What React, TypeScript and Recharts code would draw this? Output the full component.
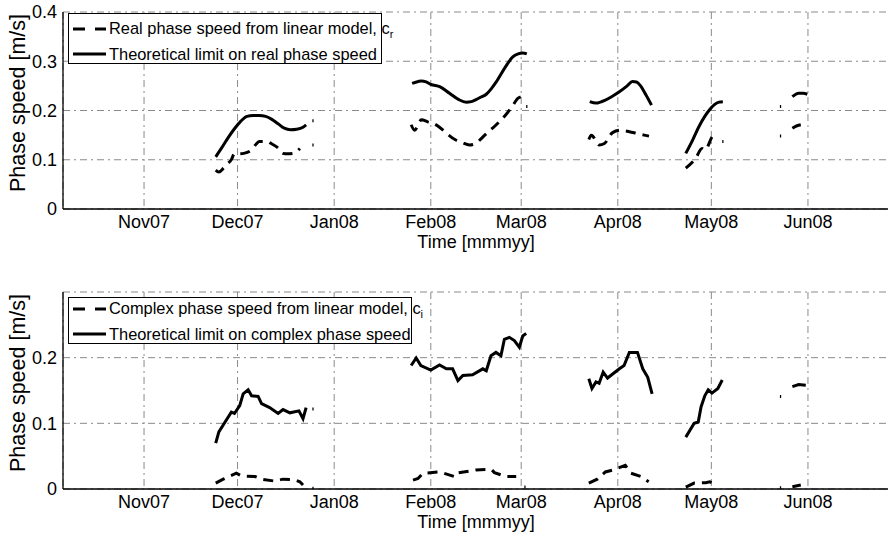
import { CartesianGrid, Label, Line, LineChart, XAxis, YAxis } from 'recharts';

// [day since 1 Nov 2007, speed in m/s]; a null value breaks the line
type Pt = [number, number | null];

const monthTicks = [0, 30, 61, 92, 121, 152, 182, 213];
const monthLabels = ['Nov07', 'Dec07', 'Jan08', 'Feb08', 'Mar08', 'Apr08', 'May08', 'Jun08'];

const realTicks = [0, 0.1, 0.2, 0.3, 0.4];
const complexTicks = [0, 0.1, 0.2];

const realModel: Pt[] = [
  [23, 0.079], [24, 0.075], [25.5, 0.083], [26.5, 0.09], [28, 0.1], [29, 0.112], [30.5, 0.112],
  [32, 0.113], [34.5, 0.12], [36, 0.132], [37, 0.137], [39.5, 0.137], [41, 0.132], [43, 0.124],
  [44.6, 0.113], [46, 0.112], [48, 0.113], [49, 0.117], [50, 0.123], [51, null],
  [54, 0.13], [54.4, 0.13], [70, null],
  [85.7, 0.171], [86.8, 0.16], [89, 0.181], [91, 0.177], [92.7, 0.174], [95, 0.165], [97, 0.154],
  [100, 0.14], [102, 0.135], [104.4, 0.13], [106.5, 0.133], [108, 0.142], [110, 0.154], [113, 0.171],
  [116, 0.191], [118, 0.207], [120, 0.225], [121, 0.228], [122, null], [122.6, 0.208], [123, 0.208], [130, null],
  [142.7, 0.141], [143.5, 0.15], [146, 0.13], [147.7, 0.133], [150.3, 0.155], [153, 0.16], [155.7, 0.157],
  [157.8, 0.154], [160.5, 0.15], [162, 0.148], [168, null],
  [173.8, 0.083], [177, 0.103], [179, 0.123], [180, 0.12], [182.3, 0.147], [183.4, 0.154], [184.5, null],
  [185.5, 0.137], [185.9, 0.137], [195, null],
  [204, 0.148], [204.4, 0.148], [206, null], [208, 0.164], [209.5, 0.169], [210.7, 0.171],
];

const realLimit: Pt[] = [
  [23, 0.106], [25, 0.125], [27, 0.145], [29, 0.163], [31, 0.178], [33, 0.188], [35, 0.19], [37, 0.19],
  [39, 0.188], [41, 0.182], [43, 0.173], [45, 0.164], [47, 0.161], [49, 0.162], [51, 0.166], [52, 0.171],
  [53, null], [54, 0.179], [54.4, 0.179], [70, null],
  [86, 0.255], [88, 0.259], [89, 0.26], [90.5, 0.258], [92, 0.253], [95, 0.248], [98, 0.235], [101, 0.222],
  [103.4, 0.217], [105, 0.218], [106.5, 0.222], [108, 0.227], [109.8, 0.233], [111.5, 0.245], [113, 0.258],
  [116, 0.289], [118.3, 0.309], [120, 0.315], [121.5, 0.317], [122.8, 0.315], [130, null],
  [143, 0.218], [145, 0.215], [148, 0.221], [150, 0.228], [152.5, 0.238], [155, 0.25], [156.7, 0.259],
  [158, 0.258], [159.3, 0.25], [161, 0.232], [162.8, 0.211], [168, null],
  [173.8, 0.113], [176, 0.14], [178, 0.167], [180, 0.189], [181.5, 0.202], [183, 0.212], [184.5, 0.217],
  [185.7, 0.218], [195, null],
  [204, 0.208], [204.4, 0.208], [206, null], [208, 0.228], [210, 0.235], [211.5, 0.235], [212.8, 0.233],
];

const complexModel: Pt[] = [
  [23, 0.009], [25.4, 0.015], [29.6, 0.024], [31.2, 0.02], [35.6, 0.019], [37.7, 0.015], [42, 0.012],
  [44.6, 0.015], [48.4, 0.014], [50, 0.011], [51, 0.006], [52, null], [54, 0.001], [54.4, 0.001], [70, null],
  [86.3, 0.0136], [87.9, 0.016], [89.5, 0.024], [94.8, 0.026], [99.6, 0.019], [100.1, 0.024], [106.5, 0.029],
  [111.4, 0.03], [112.4, 0.025], [116, 0.019], [119.4, 0.019], [120.5, null], [122, 0.003], [122.4, 0.003],
  [130, null],
  [142.7, 0.009], [145.4, 0.015], [148, 0.026], [150.5, 0.029], [154.4, 0.036], [156.2, 0.024],
  [159.4, 0.019], [161.9, 0.011], [168, null],
  [173.8, 0.003], [176.5, 0.009], [180.2, 0.0095], [181.5, 0.011], [182.5, 0.009], [195, null],
  [204, 0.002], [204.4, 0.002], [206, null], [208, 0.0035], [210.7, 0.006],
];

const complexLimit: Pt[] = [
  [23, 0.07], [24, 0.087], [26, 0.102], [28, 0.117], [29, 0.115], [30.7, 0.127], [31.8, 0.145],
  [33.4, 0.151], [34.5, 0.142], [36.6, 0.141], [37.7, 0.13], [40.3, 0.124], [43, 0.115], [44.6, 0.121],
  [46.8, 0.116], [49.7, 0.119], [51, 0.107], [52, 0.124], [53, null], [54, 0.122], [54.4, 0.122], [70, null],
  [85.7, 0.188], [87.3, 0.1995], [88.8, 0.188], [92, 0.181], [94.8, 0.189], [97, 0.183], [99, 0.183],
  [100.7, 0.165], [102.3, 0.173], [105.4, 0.174], [108.7, 0.183], [109.8, 0.18], [111.3, 0.203],
  [112.9, 0.208], [114.5, 0.203], [115.6, 0.228], [117.2, 0.231], [118.8, 0.226], [120.4, 0.216],
  [121.5, 0.233], [122.6, 0.237], [130, null],
  [142.7, 0.168], [143.7, 0.153], [145, 0.163], [146, 0.161], [147.3, 0.178], [148.7, 0.169],
  [152.5, 0.183], [154, 0.188], [155.7, 0.208], [158.3, 0.208], [160, 0.183], [161.6, 0.17], [163, 0.145],
  [168, null],
  [173.8, 0.079], [176.5, 0.1], [177.8, 0.102], [178.7, 0.125], [179.9, 0.142], [181, 0.151],
  [182.2, 0.146], [184.1, 0.153], [185.5, 0.166], [195, null],
  [204, 0.141], [204.4, 0.141], [206, null], [208, 0.156], [210, 0.159], [212.3, 0.158],
];

const FONT = '"Liberation Sans", Arial, Helvetica, sans-serif';
const DASH = '10 7';
const GRID_DASH = '7 4 2 4';

const toRows = (pts: Pt[]) => pts.map(([d, v]) => ({ d, v }));
const monthLabel = (d: number) => monthLabels[monthTicks.indexOf(d)] ?? '';

interface LegendBoxProps {
  left: number;
  top: number;
  width: number;
  height: number;
  rows: number[];
  modelText: string;
  sub: string;
  limitText: string;
}

const LegendBox = ({ left, top, width, height, rows, modelText, sub, limitText }: LegendBoxProps) => {
  const entry = (y: number, dashed: boolean, content: React.ReactNode) => (
    <div
      style={{
        position: 'absolute',
        left: 4,
        top: y - 11,
        height: 22,
        display: 'flex',
        alignItems: 'center',
        whiteSpace: 'nowrap',
      }}
    >
      <svg width={33} height={6} style={{ marginRight: 3 }}>
        <line
          x1={0}
          y1={3}
          x2={33}
          y2={3}
          stroke="#000"
          strokeWidth={3}
          strokeDasharray={dashed ? '12 10' : undefined}
        />
      </svg>
      <span>{content}</span>
    </div>
  );
  return (
    <div
      style={{
        position: 'absolute',
        left,
        top,
        width,
        height,
        boxSizing: 'border-box',
        border: '1px solid #000',
        background: '#fff',
        fontFamily: FONT,
        fontSize: 16.4,
        color: '#000',
      }}
    >
      {entry(
        rows[0],
        true,
        <>
          {modelText}
          <sub style={{ fontSize: 11, verticalAlign: '-4px', color: '#000' }}>{sub}</sub>
        </>,
      )}
      {entry(rows[1], false, limitText)}
    </div>
  );
};

interface PanelProps {
  top: number;
  plotTop: number;
  bottomMargin: number;
  yMax: number;
  yTicks: number[];
  model: Pt[];
  limit: Pt[];
  curve: 'monotone' | 'linear';
}

const Panel = ({ top, plotTop, bottomMargin, yMax, yTicks, model, limit, curve }: PanelProps) => {
  const tickStyle = { fontFamily: FONT, fontSize: 18, fill: '#000' };
  return (
    <div style={{ position: 'absolute', left: 0, top }}>
      <LineChart
        width={900}
        height={268}
        margin={{ top: plotTop, right: 11, bottom: bottomMargin, left: 13 }}
      >
        <CartesianGrid stroke="#8a8a8a" strokeDasharray={GRID_DASH} />
        <XAxis
          dataKey="d"
          type="number"
          domain={[-26, 239]}
          ticks={monthTicks}
          tickFormatter={monthLabel}
          tick={tickStyle}
          tickLine={false}
          tickSize={0}
          tickMargin={6}
          height={30}
          axisLine={{ stroke: '#000', strokeWidth: 1.3 }}
          allowDataOverflow
        >
          <Label
            content={() => (
              <text
                x={476}
                y={plotTop + 197 + 33}
                textAnchor="middle"
                dominantBaseline="central"
                style={{ fontFamily: FONT, fontSize: 18 }}
                fill="#000"
              >
                Time [mmmyy]
              </text>
            )}
          />
        </XAxis>
        <XAxis
          xAxisId="top"
          orientation="top"
          dataKey="d"
          type="number"
          domain={[-26, 239]}
          height={0}
          tick={false}
          tickLine={false}
          axisLine={{ stroke: '#000', strokeWidth: 1.3 }}
        />
        <YAxis
          type="number"
          domain={[0, yMax]}
          ticks={yTicks}
          width={50}
          tick={tickStyle}
          tickLine={false}
          tickSize={0}
          tickMargin={6}
          axisLine={{ stroke: '#000', strokeWidth: 1.3 }}
          allowDataOverflow
        >
          <Label
            content={() => (
              <text
                x={18}
                y={plotTop + 91}
                transform={`rotate(-90 18 ${plotTop + 91})`}
                textAnchor="middle"
                dominantBaseline="central"
                style={{ fontFamily: FONT, fontSize: 21.5 }}
                fill="#000"
              >
                Phase speed [m/s]
              </text>
            )}
          />
        </YAxis>
        <Line
          data={toRows(model)}
          dataKey="v"
          type={curve}
          stroke="#000"
          strokeWidth={3}
          strokeDasharray={DASH}
          dot={false}
          activeDot={false}
          isAnimationActive={false}
        />
        <Line
          data={toRows(limit)}
          dataKey="v"
          type={curve}
          stroke="#000"
          strokeWidth={3}
          dot={false}
          activeDot={false}
          isAnimationActive={false}
        />
      </LineChart>
    </div>
  );
};

export default function App() {
  return (
    <div
      style={{
        position: 'absolute',
        left: 0,
        top: 0,
        width: 888,
        height: 536,
        overflow: 'hidden',
        background: '#fff',
      }}
    >
      <Panel
        top={0}
        plotTop={12}
        bottomMargin={29}
        yMax={0.4}
        yTicks={realTicks}
        model={realModel}
        limit={realLimit}
        curve="monotone"
      />
      <Panel
        top={268}
        plotTop={24}
        bottomMargin={17}
        yMax={0.3}
        yTicks={complexTicks}
        model={complexModel}
        limit={complexLimit}
        curve="linear"
      />
      <LegendBox
        left={68}
        top={13}
        width={314}
        height={51}
        rows={[15, 40]}
        modelText="Real phase speed from linear model, c"
        sub="r"
        limitText="Theoretical limit on real phase speed"
      />
      <LegendBox
        left={68}
        top={297}
        width={344}
        height={47}
        rows={[11, 36]}
        modelText="Complex phase speed from linear model, c"
        sub="i"
        limitText="Theoretical limit on complex phase speed"
      />
    </div>
  );
}
